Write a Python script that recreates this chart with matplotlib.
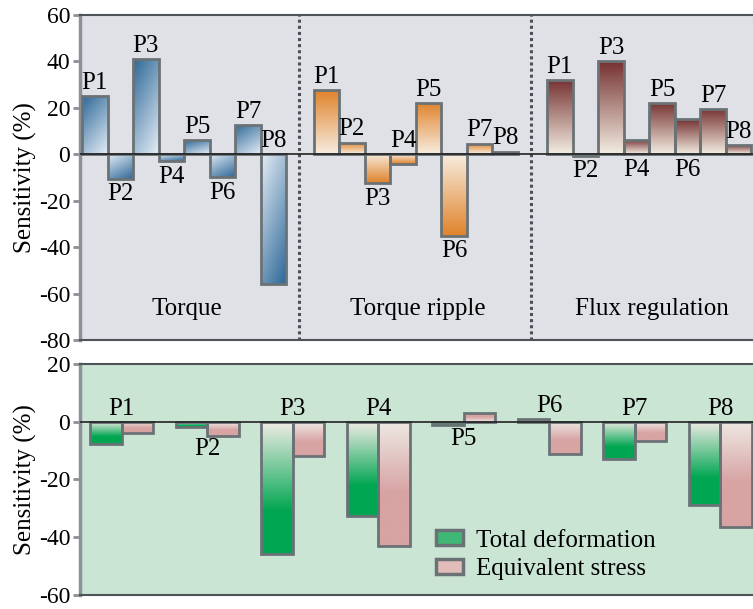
import numpy as np
import matplotlib.pyplot as plt
from matplotlib.colors import LinearSegmentedColormap
from matplotlib.patches import Patch

plt.rcParams['font.family'] = ['Liberation Serif', 'DejaVu Serif']
plt.rcParams['axes.unicode_minus'] = False

params = ['P1', 'P2', 'P3', 'P4', 'P5', 'P6', 'P7', 'P8']

# top panel: electromagnetic sensitivities (%)
groups = ['Torque', 'Torque ripple', 'Flux regulation']
torque = [25, -10.5, 41, -3, 6, -10, 12.5, -56]
ripple = [27.5, 5, -12.5, -4, 22, -35, 4.6, 1.1]
flux = [32, -0.6, 40, 6.3, 22, 15, 19.5, 4]
top_side = [['a', 'b', 'a', 'b', 'a', 'b', 'a', 'a'],
            ['a', 'a', 'b', 'a', 'a', 'b', 'a', 'a'],
            ['a', 'b', 'a', 'b', 'a', 'b', 'a', 'a']]

# bottom panel: mechanical sensitivities (%)
deformation = [-7.7, -1.7, -45.7, -32.5, -1.1, 1.1, -12.9, -28.8]
stress = [-4, -4.8, -11.7, -43.2, 3.1, -11.2, -6.5, -36.5]
bottom_side = ['a', 'b', 'a', 'a', 'b', 'a', 'a', 'a']

EDGE = '#6b7276'
FS = 18


def grad_bar(ax, rect, cmap, kind, value):
    x0, y0 = rect.get_x(), rect.get_y()
    w, h = rect.get_width(), rect.get_height()
    ny, nx = 100, 30
    yy, xx = np.mgrid[0:1:ny * 1j, 0:1:nx * 1j]
    if kind == 'diag':
        # dark at far end from zero, slight diagonal
        v = yy if value >= 0 else 1 - yy
        hz = 1 - xx if value >= 0 else xx
        t = 0.65 * v + 0.35 * hz
    elif kind == 'vert':
        t = yy if value >= 0 else 1 - yy
    else:
        # fade from zero, reaching full colour part way down
        d = 1 - yy if value < 0 else yy
        t = np.clip(d / kind, 0, 1)
    im = ax.imshow(t, extent=[x0, x0 + w, min(y0, y0 + h), max(y0, y0 + h)],
                   origin='lower', cmap=cmap, vmin=0, vmax=1,
                   aspect='auto', zorder=2, interpolation='bilinear')
    im.set_clip_path(rect)


def style_axis(ax, bg):
    ax.set_facecolor(bg)
    ax.spines['right'].set_visible(False)
    ax.spines['left'].set_color('#8b9197')
    ax.spines['left'].set_linewidth(2.5)
    for s in ['top', 'bottom']:
        ax.spines[s].set_color('#4d5357')
        ax.spines[s].set_linewidth(1.5)
    ax.tick_params(axis='y', direction='out', length=5, width=2,
                   color='#8b9197', labelsize=17, pad=2)
    ax.set_xticks([])
    ax.axhline(0, color='#222222', lw=1.2, zorder=4)
    ax.set_ylabel('Sensitivity (%)', fontsize=FS, labelpad=1)


fig = plt.figure(figsize=(7.53, 6.09), dpi=100)
ax1 = fig.add_axes([0.1062, 0.4417, 0.8935, 0.5337])
ax2 = fig.add_axes([0.1062, 0.0230, 0.8935, 0.3793])

# ---- top panel
cmaps = [LinearSegmentedColormap.from_list('b', ['#e4edf6', '#2d6797']),
         LinearSegmentedColormap.from_list('o', ['#f7ecdf', '#e0832b']),
         LinearSegmentedColormap.from_list('r', ['#f2ece0', '#763232'])]
kinds = ['diag', 'vert', 'vert']
offsets = [0, 9.06, 18.2]
for g, vals in enumerate([torque, ripple, flux]):
    xs = np.arange(len(vals)) + offsets[g]
    bars = ax1.bar(xs, vals, width=1.0, facecolor='none', edgecolor=EDGE,
                   linewidth=2, zorder=3)
    for rect, v in zip(bars, vals):
        grad_bar(ax1, rect, cmaps[g], kinds[g], v)
    for x, v, p, s in zip(xs, vals, params, top_side[g]):
        if s == 'a':
            ax1.text(x, max(v, 0) + 1.0, p, ha='center', va='bottom', fontsize=FS)
        else:
            ax1.text(x, min(v, 0) - 2.0, p, ha='center', va='top', fontsize=FS)
    ax1.text(offsets[g] + 3.6, -66.5, groups[g], ha='center', va='center',
             fontsize=FS)
for xd in [8.01, 17.08]:
    ax1.axvline(xd, color='#4a5055', ls=(0, (1, 1)), lw=2.2, zorder=1)
style_axis(ax1, '#e0e1e6')
ax1.set_xlim(-0.58, 25.75)
ax1.set_ylim(-80, 60)
ax1.set_yticks(range(-80, 61, 20))

# ---- bottom panel
gcmap = LinearSegmentedColormap.from_list('g', ['#eeebe4', '#00a651'])
pcmap = LinearSegmentedColormap.from_list('p', ['#eee8e3', '#d7a3a3'])
w = 0.37
xs = np.arange(len(params))
b1 = ax2.bar(xs - w / 2, deformation, width=w, facecolor='none',
             edgecolor=EDGE, linewidth=2, zorder=3)
b2 = ax2.bar(xs + w / 2, stress, width=w, facecolor='none',
             edgecolor=EDGE, linewidth=2, zorder=3)
for rect, v in zip(b1, deformation):
    grad_bar(ax2, rect, gcmap, 0.68, v)
for rect, v in zip(b2, stress):
    grad_bar(ax2, rect, pcmap, 0.58, v)
for x, d, s_, p, side in zip(xs, deformation, stress, params, bottom_side):
    if side == 'a':
        ax2.text(x, max(d, s_, 0) + 0.6, p, ha='center', va='bottom', fontsize=FS)
    else:
        ax2.text(x, min(d, s_, 0) - 1.0, p, ha='center', va='top', fontsize=FS)
style_axis(ax2, '#cbe5d5')
ax2.set_xlim(-0.49, 7.38)
ax2.set_ylim(-60, 20)
ax2.set_yticks(range(-60, 21, 20))

handles = [Patch(facecolor='#3fb875', edgecolor=EDGE, linewidth=2.5),
           Patch(facecolor='#e2bcb9', edgecolor=EDGE, linewidth=2.5)]
ax2.legend(handles, ['Total deformation', 'Equivalent stress'],
           loc='upper left', bbox_to_anchor=(0.495, 0.38), frameon=False,
           fontsize=FS, handlelength=1.1, handleheight=0.55,
           handletextpad=0.5, labelspacing=0.25)

fig.savefig('out.png', dpi=100)
